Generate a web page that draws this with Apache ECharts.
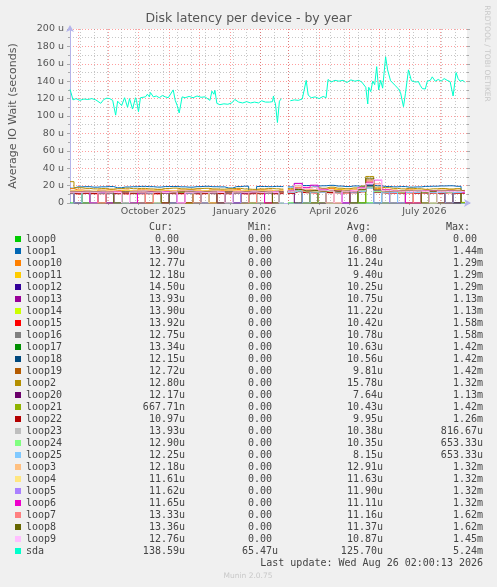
<!DOCTYPE html>
<html><head><meta charset="utf-8">
<script src="https://cdn.jsdelivr.net/npm/echarts@6/dist/echarts.min.js"></script>
<style>html,body{margin:0;padding:0;background:#f0f0f0}#c{width:497px;height:587px}</style>
</head><body><div id="c"></div>
<script>
// ---- axis / time data ----
const START = Date.UTC(2025, 6, 24);          // left edge of the 400-day window
const DAY = 86400000;
const END = START + 400 * DAY;
const monthStarts = ['2025-08-01','2025-09-01','2025-10-01','2025-11-01','2025-12-01','2026-01-01','2026-02-01','2026-03-01','2026-04-01','2026-05-01','2026-06-01','2026-07-01','2026-08-01'];
const xLabelDates = ['2025-10-16','2026-01-16','2026-04-16','2026-07-16'];
const xLabelTexts = ['October 2025','January 2026','April 2026','July 2026'];
const minorGridAnchor = '2025-10-12';         // minor grid every 14 days
const yTickLabels = ['0','20 u','40 u','60 u','80 u','100 u','120 u','140 u','160 u','180 u','200 u'];

// ---- legend table ----
const names = ['loop0','loop1','loop10','loop11','loop12','loop13','loop14','loop15','loop16','loop17','loop18','loop19','loop2','loop20','loop21','loop22','loop23','loop24','loop25','loop3','loop4','loop5','loop6','loop7','loop8','loop9','sda'];
const colors = ['#00CC00','#0066B3','#FF8000','#FFCC00','#330099','#990099','#CCFF00','#FF0000','#808080','#008F00','#00487D','#B35A00','#B38F00','#6B006B','#8FB300','#B30000','#BEBEBE','#80FF80','#80C9FF','#FFC080','#FFE680','#AA80FF','#EE00CC','#FF8080','#666600','#FFBFFF','#00FFCC'];
const curText = ['0.00 ','13.90u','12.77u','12.18u','14.50u','13.93u','13.90u','13.92u','12.75u','13.34u','12.15u','12.72u','12.80u','12.17u','667.71n','10.97u','13.93u','12.90u','12.25u','12.18u','11.61u','11.62u','11.65u','13.33u','13.36u','12.76u','138.59u'];
const minText = ['0.00 ','0.00 ','0.00 ','0.00 ','0.00 ','0.00 ','0.00 ','0.00 ','0.00 ','0.00 ','0.00 ','0.00 ','0.00 ','0.00 ','0.00 ','0.00 ','0.00 ','0.00 ','0.00 ','0.00 ','0.00 ','0.00 ','0.00 ','0.00 ','0.00 ','0.00 ','65.47u'];
const avgText = ['0.00 ','16.88u','11.24u','9.40u','10.25u','10.75u','11.22u','10.42u','10.78u','10.63u','10.56u','9.81u','15.78u','7.64u','10.43u','9.95u','10.38u','10.35u','8.15u','12.91u','11.63u','11.90u','11.11u','11.16u','11.37u','10.87u','125.70u'];
const maxText = ['0.00 ','1.44m','1.29m','1.29m','1.29m','1.13m','1.13m','1.58m','1.58m','1.42m','1.42m','1.42m','1.32m','1.13m','1.42m','1.26m','816.67u','653.33u','653.33u','1.32m','1.32m','1.32m','1.32m','1.62m','1.62m','1.45m','5.24m'];

// ---- series values (micro-seconds) ----
const loopDays = [0,8,16,24,32,40,48,56,64,72, 80,88,96,104,112,120,128,136,144,152, 160,168,176,184,192,200,208,213, 217, 222,230,238,246,254,262,270,278,286,294, 302,310,318,326,334,342,350,358,366,374, 382,390,398];
const loop0 = [0,0,0,0,0,0,0,0,0,0, 0,0,0,0,0,0,0,0,0,0, 0,0,0,0,0,0,0,0, null, 0,0,0,0,0,0,0,0,0,0, 0,0,0,0,0,0,0,0,0,0, 0,0,0];
const loop1 = [17.0,18.5,18.8,18.2,18.6,18.9,17.5,18.4,18.7,19.1, 18.8,18.3,18.9,19.0,18.6,18.2,18.8,19.2,18.7,18.5, 17.2,18.9,19.3,0,19.0,18.8,19.1,18.9, null, 18.5,22.5,20.1,19.4,19.8,20.3,19.5,18.9,19.6,19.2, 20.5,19.8,19.0,18.6,18.9,18.2,18.5,19.1,19.3,19.6, 19.8,19.2,13.9];
const loop10 = [16.5,15.0,14.6,0,14.8,15.2,14.5,14.9,0,15.1, 14.7,15.3,14.6,0,14.9,15.2,14.8,0,15.0,14.6, 14.9,15.4,0,14.7,15.1,14.8,0,14.9, null, 15.2,17.8,16.0,0,15.6,16.8,15.3,0,15.9,17.2, 22.5,16.5,15.2,14.8,0,15.1,14.6,15.0,0,14.8, 15.2,14.7,12.77];
const loop11 = [14.2,13.8,0,13.6,14.1,0,0,13.9,14.3,13.7, 0,14.0,13.8,14.2,0,0,13.9,14.1,13.6,0, 14.0,13.7,14.2,0,13.9,0,14.1,13.8, null, 14.3,16.5,0,15.2,14.8,0,15.6,14.9,0,16.2, 24.0,15.3,0,14.5,14.1,0,14.6,14.2,13.9,0, 14.4,14.0,12.18];
const loop12 = [12.8,12.5,12.9,0,12.6,13.0,0,12.7,12.4,12.8, 13.1,0,12.6,12.9,12.5,13.0,0,12.8,12.6,13.2, 0,12.7,12.9,12.5,0,12.8,13.0,12.6, null, 13.2,15.0,13.8,0,14.2,13.6,14.5,0,13.9,15.8, 20.5,14.6,13.8,0,13.5,13.9,0,13.2,13.6,13.4, 0,13.8,14.5];
const loop13 = [13.0,0,12.8,13.2,12.9,0,13.1,12.7,13.3,0, 12.9,13.2,0,12.8,13.0,13.4,12.7,0,13.1,12.9, 13.3,0,12.8,13.1,12.6,13.0,0,12.9, null, 13.5,16.2,14.0,13.6,0,14.4,13.8,14.1,0,15.3, 21.0,14.2,13.7,14.0,13.5,0,0,13.8,13.4,14.0, 13.6,0,13.93];
const loop14 = [13.5,13.2,13.6,13.0,0,13.4,13.1,13.7,13.3,13.0, 0,13.5,13.2,13.6,13.1,0,13.4,13.2,13.7,13.0, 13.3,13.5,0,13.2,13.6,13.1,13.4,0, null, 13.8,15.5,14.2,13.9,14.6,0,14.1,13.7,14.4,15.9, 22.0,14.5,13.9,13.6,14.1,13.8,0,13.5,13.9,13.6, 14.0,13.7,13.9];
const loop15 = [10.8,10.5,10.9,10.6,10.7,0,10.8,10.4,10.9,10.6, 10.7,10.5,0,10.8,10.6,10.9,10.5,10.7,0,10.8, 10.6,10.9,10.5,10.8,10.7,0,10.6,10.8, null, 11.2,14.5,12.0,11.5,12.4,11.8,0,11.6,12.2,13.8, 19.5,12.6,11.9,11.4,11.8,11.5,11.2,0,11.6,11.3, 11.7,11.4,13.92];
const loop16 = [12.5,12.2,12.6,12.3,0,12.4,12.7,12.1,12.5,0, 12.3,12.6,12.2,12.5,12.8,0,12.4,12.1,12.6,12.3, 12.5,0,12.7,12.2,12.4,12.6,12.3,12.5, null, 12.9,14.8,13.4,0,13.6,13.0,13.8,12.9,0,14.6, 20.2,13.6,13.1,12.8,0,12.7,13.2,12.9,12.6,13.0, 0,12.8,12.75];
const loop17 = [12.4,12.7,0,12.5,12.3,12.8,12.6,0,12.4,12.7, 12.5,12.2,12.9,12.4,0,12.6,12.3,12.8,12.5,0, 12.7,12.4,12.6,0,12.5,12.8,12.3,12.6, null, 13.1,15.2,0,13.5,13.9,13.2,14.0,13.4,13.7,0, 20.8,13.9,13.3,12.9,13.2,0,12.8,13.1,12.7,13.0, 13.2,0,13.34];
const loop18 = [12.2,12.5,12.1,12.6,0,12.3,12.0,12.4,0,12.6, 12.3,12.1,12.5,0,12.2,12.6,12.4,12.0,12.3,12.5, 0,12.4,12.1,12.6,12.3,12.0,12.5,0, null, 12.8,14.6,13.1,13.5,0,13.3,12.9,13.6,13.2,14.4, 19.8,13.5,0,12.7,13.0,12.6,12.9,0,12.5,12.8, 12.6,12.9,12.15];
const loop19 = [12.0,0,12.3,11.9,12.2,12.5,0,12.1,11.8,12.4, 0,12.2,12.0,12.3,0,12.1,12.4,11.9,0,12.2, 12.0,12.3,0,12.1,11.9,0,12.2,12.0, null, 12.6,14.2,0,13.0,12.7,13.4,0,12.8,13.1,14.0, 26.5,13.2,12.6,0,12.4,12.8,12.5,0,12.3,12.6, 0,12.4,12.72];
const loop2 = [24.5,17.5,16.8,16.2,16.6,16.0,16.5,17.0,16.4,16.8, 16.2,15.8,16.6,17.1,16.3,16.0,16.5,16.9,16.2,15.9, 16.4,16.8,16.1,15.7,16.2,16.6,16.3,16.0, null, 16.5,19.8,17.2,17.8,16.9,18.2,17.0,16.4,17.3,19.5, 30.5,18.2,17.6,16.8,16.2,16.9,16.4,15.8,16.3,16.7, 16.1,16.5,12.8];
const loop20 = [11.5,0,0,11.8,11.4,0,11.7,0,11.3,11.6, 0,0,11.5,11.8,0,11.4,0,11.7,11.5,0, 11.6,0,11.4,11.8,0,0,11.5,11.7, null, 12.0,0,13.2,12.6,0,12.9,12.4,0,0,13.5, 18.5,0,12.6,12.2,0,12.5,0,12.1,12.4,0, 12.3,0,12.17];
const loop21 = [12.1,12.4,12.0,0,12.3,12.6,12.2,11.9,0,12.5, 12.3,12.0,12.4,12.1,12.6,0,12.2,12.5,12.0,12.3, 0,12.4,12.1,12.5,12.2,0,12.3,12.0, null, 12.7,15.0,13.2,0,13.5,13.0,13.8,12.9,13.4,0, 21.5,13.4,12.8,13.1,0,12.7,13.0,12.6,0,12.9, 12.7,12.5,0.67];
const loop22 = [11.0,10.8,11.2,10.9,0,11.1,10.7,11.0,10.8,0, 11.2,10.9,11.1,10.8,11.0,0,10.9,11.2,10.7,11.0, 10.9,11.1,0,10.8,11.0,11.2,10.9,11.1, null, 11.4,13.0,11.8,12.2,0,11.9,11.6,12.0,11.7,12.8, 17.5,12.0,11.5,11.8,11.4,0,11.6,11.3,11.7,11.2, 0,11.5,10.97];
const loop23 = [12.0,11.8,12.2,0,11.9,12.1,11.7,12.3,12.0,0, 11.8,12.1,11.9,12.2,0,11.7,12.0,12.3,11.9,12.1, 0,11.8,12.2,12.0,11.9,12.1,0,11.8, null, 12.4,14.0,12.8,13.1,12.6,0,12.9,12.5,13.0,13.8, 18.0,12.9,0,12.4,12.7,12.3,12.6,0,12.2,12.5, 12.3,12.6,13.93];
const loop24 = [11.9,12.2,0,12.0,11.8,12.3,12.1,0,11.9,12.2, 12.0,0,12.3,11.8,12.1,12.4,0,11.9,12.2,12.0, 11.8,12.1,12.3,0,11.9,12.2,12.0,0, null, 12.5,14.2,13.0,12.7,0,13.2,12.8,13.1,0,14.0, 18.2,13.0,12.6,0,12.5,12.9,12.4,12.7,0,12.6, 12.8,12.4,12.90];
const loop25 = [11.6,0,11.9,0,11.7,11.5,0,11.8,0,11.6, 11.4,0,11.7,11.9,0,11.5,11.8,0,11.6,0, 11.7,11.5,0,11.8,0,11.6,11.9,0, null, 12.2,13.8,0,12.6,12.3,0,12.8,0,12.5,13.4, 17.0,0,12.4,12.1,0,12.3,12.0,0,12.2,11.9, 0,12.1,12.25];
const loop3 = [14.0,13.6,13.9,13.5,13.8,14.1,13.4,13.7,14.0,13.6, 13.9,13.5,13.8,14.2,0,13.7,14.0,13.6,13.9,13.5, 13.8,14.1,13.6,13.9,13.7,14.0,13.5,13.8, null, 14.2,16.4,14.8,15.3,14.6,15.0,14.5,14.9,14.7,16.0, 23.5,15.2,14.6,14.3,14.0,0,14.2,13.9,14.3,14.1, 13.8,14.2,12.18];
const loop4 = [13.2,12.9,13.3,13.0,0,13.1,12.8,13.4,13.0,12.9, 13.2,0,13.1,12.8,13.3,13.0,12.9,13.2,0,13.1, 12.8,13.3,13.0,12.9,0,13.2,13.1,12.8, null, 13.5,15.6,14.0,13.8,14.3,13.9,0,14.1,13.7,15.2, 22.0,14.3,13.8,13.5,13.9,13.4,13.7,0,13.6,13.3, 13.7,13.4,11.61];
const loop5 = [13.4,13.1,13.5,13.2,13.6,0,13.3,13.0,13.4,13.7, 13.2,13.5,13.1,0,13.4,13.6,13.0,13.3,13.5,13.2, 13.4,0,13.1,13.5,13.3,13.0,13.6,13.2, null, 13.9,15.8,14.3,14.7,14.1,14.5,13.9,0,14.2,15.4, 21.5,14.4,13.9,0,0,13.7,14.0,13.6,13.9,13.5, 13.8,13.6,11.62];
const loop6 = [12.6,12.3,12.7,0,12.4,12.8,12.5,12.2,0,12.6, 12.9,12.4,12.7,12.3,0,12.5,12.8,12.4,12.6,0, 12.3,12.7,12.5,12.2,12.8,0,12.4,12.6, null, 13.5,22.5,18.0,20.5,15.8,14.2,13.6,0,14.0,17.5, 24.0,26.5,15.2,14.0,13.6,0,0,13.5,13.8,13.3, 13.6,13.2,11.65];
const loop7 = [12.4,12.7,12.3,12.6,0,12.5,12.8,12.2,12.6,12.4, 0,12.7,12.3,12.5,12.8,12.2,0,12.6,12.4,12.7, 12.3,12.5,12.8,0,12.4,12.6,12.2,12.5, null, 13.0,17.5,13.8,14.2,13.6,0,13.9,13.4,14.0,16.0, 25.0,22.0,13.8,13.4,13.1,13.5,0,13.2,13.6,13.0, 13.3,13.5,13.33];
const loop8 = [12.8,12.5,12.9,12.6,13.0,12.4,0,12.7,12.5,12.9, 12.6,12.8,0,12.4,12.7,12.9,12.5,12.8,12.6,0, 12.7,12.4,12.9,12.6,12.8,12.5,0,12.7, null, 13.2,15.5,13.9,14.3,13.7,14.1,13.5,14.0,0,15.7, 28.5,15.0,14.0,13.6,13.9,13.4,13.7,0,13.5,13.8, 13.4,13.7,13.36];
const loop9 = [12.5,12.2,12.6,12.3,12.7,12.4,12.1,0,12.5,12.8, 12.3,12.6,12.2,12.7,0,12.4,12.6,12.3,12.5,12.2, 0,12.6,12.4,12.7,12.3,12.5,12.2,0, null, 13.0,20.5,16.5,18.0,14.8,13.9,0,13.6,14.2,17.0, 22.5,27.0,14.5,13.8,13.5,13.2,13.6,13.3,0,13.5, 13.1,13.4,12.76];
// sda: [day from window start, value]
const sdaPoints = [[0,130.5],[1,127],[3,118.5],[6,120],[10,118],[14,119.5],[18,119],[22,120],[26,118.5],[28,120],
 [31,114.6],[34,119],[37,120.5],[40,120],[43,118],[46,101],[48,117],[50,119],[52,112],[53,113],
 [55,121],[56,120],[58,110],[60,120],[61,119],[63,108],[64,107],[66,121],[67,118],[69,105],
 [71,121],[73,123],[76,122],[78,125],[80,122],[81,127],[84,122],[87,123],[90,121],[93,123.5],
 [96,122],[99,121],[101,122.5],[104,130],[106,118],[108,112],[110,103.5],[113,122],[116,121],[120,122.5],
 [124,121],[128,123],[132,121.5],[136,122],[138,123.5],[141,118],[143,128.5],[145,125],[146,129.5],[148,114.5],
 [151,113],[155,114],[159,113.5],[163,115],[166,119],[170,116],[174,115],[178,116.5],[182,115],[186,116],
 [190,115],[193,117.5],[197,116],[201,116],[204,116.5],[205,123],[206,117],[207,114],[209,92.5],[211,117],
 [213,120],[217,null],[222,117.5],[226,118.5],[230,118],[234,119.5],[236,118.5],[238,141],[240,124],[243,121],
 [247,122],[251,120],[255,122.5],[258,121],[260,142],[263,139],[267,141],[271,140],[275,141],[279,138.5],
 [283,141.5],[287,140],[291,141],[294,139],[296,140.5],[298,133],[300,113.8],[301,133],[303,128],[305,140],
 [307,136],[309,156.7],[311,130],[313,141],[315,132],[318,168],[320,153],[323,140.5],[325,142],[328,134.7],
 [331,131],[333,127],[336,110.7],[338,126],[341,153],[344,140.5],[346,142],[348,139],[351,139.5],[353,135],
 [355,131.5],[358,131],[360,140],[363,141],[365,145],[368,140],[371,142],[374,140],[377,143],[380,141],
 [383,139.5],[385,141],[386,123],[389,150],[391,143],[393,140],[396,141],[398,138.6]];

const loopValues = [loop0,loop1,loop10,loop11,loop12,loop13,loop14,loop15,loop16,loop17,loop18,loop19,loop2,loop20,loop21,loop22,loop23,loop24,loop25,loop3,loop4,loop5,loop6,loop7,loop8,loop9];

// ---- build ----
const toT = s => { const p = s.split('-').map(Number); return Date.UTC(p[0], p[1]-1, p[2]); };
const monthTicks = monthStarts.map(toT);
const labelTicks = xLabelDates.map(toT);
const minorTicks = [];
for (let t = toT(minorGridAnchor); t > START; t -= 14*DAY) minorTicks.unshift(t);
for (let t = toT(minorGridAnchor) + 14*DAY; t < END; t += 14*DAY) minorTicks.push(t);

const series = names.map((n, i) => {
  const isSda = n === 'sda';
  let data;
  if (isSda) data = sdaPoints.map(p => [START + p[0]*DAY, p[1] === null ? '-' : p[1]]);
  else data = loopValues[i].map((v, k) => [START + loopDays[k]*DAY, v === null ? '-' : v]);
  return {type:'line', name:n, xAxisIndex:1, yAxisIndex:0, data, symbol:'none', showSymbol:false,
    step: isSda ? false : 'middle',
    connectNulls:false, silent:true, lineStyle:{width:1, color:colors[i]}, itemStyle:{color:colors[i]}};
});

const F = 'DejaVu Sans';
const M = '"DejaVu Sans Mono", monospace';
const txt = '#444';
const majorGrid = {color:'rgba(255,0,0,0.38)', type:[1,2], width:1};
const minorGrid = {color:'rgba(130,130,130,0.45)', type:[1,2], width:1};
const axisCol = '#b4b4ea';

const chart = echarts.init(document.getElementById('c'), null, {renderer:'canvas'});
chart.setOption({
  backgroundColor:'#f0f0f0',
  animation:false,
  title:{text:'Disk latency per device - by year', left:'center', top:12, padding:0,
    textStyle:{fontFamily:F, fontSize:12.5, fontWeight:'normal', color:'#555'}},
  grid:{left:67, right:30, top:29, bottom:384, show:true, backgroundColor:'#ffffff', borderWidth:0},
  xAxis:[
    {type:'value', min:START, max:END, position:'bottom',
      axisLine:{show:false}, axisLabel:{show:false},
      axisTick:{show:false, customValues:minorTicks},
      splitLine:{show:true, lineStyle:minorGrid}},
    {type:'value', min:START, max:END, position:'bottom',
      axisLine:{show:true, lineStyle:{color:axisCol}, symbol:['none','arrow'], symbolSize:[6,7], symbolOffset:[0,4]},
      axisTick:{show:true, customValues:monthTicks, length:2, lineStyle:{color:'#aaa'}},
      splitLine:{show:true, lineStyle:majorGrid},
      axisLabel:{customValues:labelTicks, margin:4, color:'#555', fontFamily:F, fontSize:9.5,
        formatter:v => { let b=0, d=Infinity; labelTicks.forEach((t,i)=>{ if (Math.abs(t-v)<d){d=Math.abs(t-v); b=i;} }); return xLabelTexts[b]; }}}
  ],
  yAxis:[
    {type:'value', min:0, max:200, interval:20, position:'left',
      name:'Average IO Wait (seconds)', nameLocation:'middle', nameGap:51, nameRotate:90,
      nameTextStyle:{fontFamily:F, fontSize:11, color:'#555'},
      axisLine:{show:true, lineStyle:{color:axisCol}, symbol:['none','arrow'], symbolSize:[6,7], symbolOffset:[0,4]},
      axisTick:{show:true, length:3, lineStyle:{color:'#aaa'}},
      minorTick:{show:true, splitNumber:2, length:2, lineStyle:{color:'#aaa'}},
      splitLine:{show:true, lineStyle:majorGrid},
      minorSplitLine:{show:true, lineStyle:minorGrid},
      axisLabel:{margin:6, color:'#555', fontFamily:F, fontSize:9.5, formatter:v => yTickLabels[Math.round(v/20)]}},
    {type:'value', min:0, max:200, interval:20, position:'right',
      axisLine:{show:false}, axisLabel:{show:false}, splitLine:{show:false},
      axisTick:{show:true, length:3, lineStyle:{color:'#aaa'}},
      minorTick:{show:true, splitNumber:2, length:2, lineStyle:{color:'#aaa'}}}
  ],
  legend:{orient:'vertical', left:15, top:233, padding:0, itemGap:0, itemWidth:6, itemHeight:6,
    icon:'rect', selectedMode:false, data:names,
    textStyle:{fontFamily:M, fontSize:10, color:txt, lineHeight:12,
      rich:{
        n:{width:100, fontFamily:M, fontSize:10, color:txt, lineHeight:12},
        c:{width:59, align:'right', fontFamily:M, fontSize:10, color:txt, lineHeight:12},
        m:{width:93, align:'right', fontFamily:M, fontSize:10, color:txt, lineHeight:12},
        a:{width:105, align:'right', fontFamily:M, fontSize:10, color:txt, lineHeight:12},
        x:{width:100, align:'right', fontFamily:M, fontSize:10, color:txt, lineHeight:12}
      }},
    formatter:name => { const i = names.indexOf(name);
      return '{n|'+name+'}{c|'+curText[i]+'}{m|'+minText[i]+'}{a|'+avgText[i]+'}{x|'+maxText[i]+'}'; }},
  graphic:[
    {type:'text', x:173, y:227, style:{text:'Cur:', font:'10px '+M, fill:txt, align:'right', verticalAlign:'middle'}},
    {type:'text', x:272, y:227, style:{text:'Min:', font:'10px '+M, fill:txt, align:'right', verticalAlign:'middle'}},
    {type:'text', x:371, y:227, style:{text:'Avg:', font:'10px '+M, fill:txt, align:'right', verticalAlign:'middle'}},
    {type:'text', x:470, y:227, style:{text:'Max:', font:'10px '+M, fill:txt, align:'right', verticalAlign:'middle'}},
    {type:'text', x:483, y:563.5, style:{text:'Last update: Wed Aug 26 02:00:13 2026', font:'10px '+M, fill:txt, align:'right', verticalAlign:'middle'}},
    {type:'text', x:248, y:576, style:{text:'Munin 2.0.75', font:'7.5px "DejaVu Sans"', fill:'#c8c8c8', align:'center', verticalAlign:'middle'}},
    {type:'text', x:487, y:53.5, rotation:-Math.PI/2, style:{text:'RRDTOOL / TOBI OETIKER', font:'7.5px "DejaVu Sans"', fill:'#c8c8c8', align:'center', verticalAlign:'middle'}}
  ],
  series
});
</script></body></html>
